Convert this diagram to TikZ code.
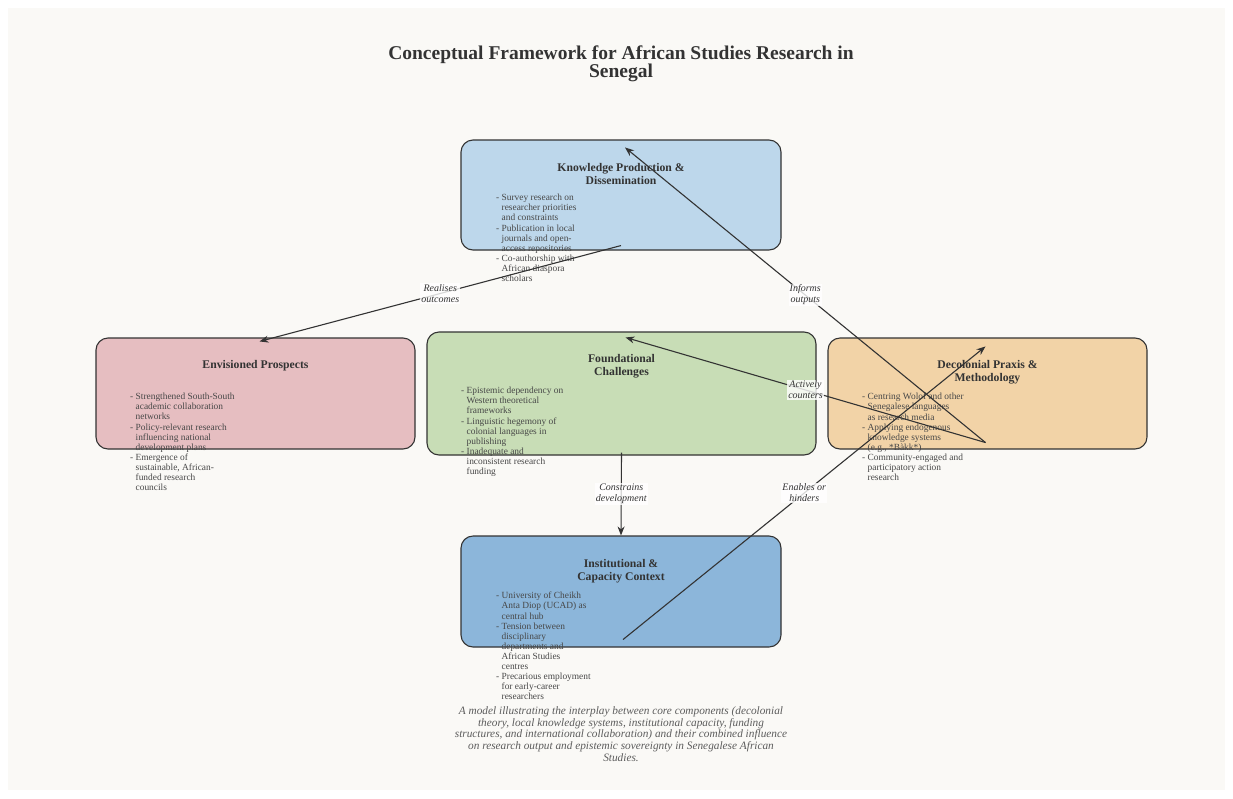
\documentclass[tikz,border=0pt]{standalone}
\usepackage{fontspec}
\setmainfont{Liberation Serif}
\usepackage{xcolor}
\definecolor{bgcream}{HTML}{FAF9F6}
\definecolor{ink}{HTML}{333333}
\definecolor{kpblue}{HTML}{BDD7EB}
\definecolor{eppink}{HTML}{E6BEC1}
\definecolor{fcgreen}{HTML}{C8DDB6}
\definecolor{dporange}{HTML}{F2D3A7}
\definecolor{icblue}{HTML}{8CB6DA}
\usepackage{tikz}
\usetikzlibrary{arrows.meta}
\newcommand{\indentline}{\hspace*{0.58em}}
\tikzstyle{box} = [draw=ink, line width=1.1pt, rounded corners=12pt, inner sep=0pt]
\tikzstyle{head} = [font=\bfseries\fontsize{11.7}{12.5}\selectfont, text=ink, align=center]
\tikzstyle{items} = [font=\fontsize{9.4}{10.1}\selectfont, text=ink!90, align=left, anchor=north west, inner sep=0pt]
\tikzstyle{lbl} = [font=\itshape\fontsize{10}{11}\selectfont, text=ink, fill=white, fill opacity=0.8, text opacity=1, align=center, inner sep=1pt]
\tikzstyle{conn} = [-{Stealth[length=9pt,width=7pt]}, draw=ink, line width=1.1pt]

\begin{document}
\begin{tikzpicture}[x=1pt, y=-1pt]
    \useasboundingbox (0,0) rectangle (1233,798);
    \fill[white] (0,0) rectangle (1233,798);
    \fill[bgcream] (8,8) rectangle (1225,790);

    \node (title) at (621,64) [font=\bfseries\fontsize{19.5}{18.5}\selectfont, text=ink, align=center]
        {Conceptual Framework for African Studies Research in\\Senegal};

    % boxes
    \node (kp) at (621,195) [box, fill=kpblue, minimum width=320, minimum height=110] {};
    \node (ep) at (255.5,393.5) [box, fill=eppink, minimum width=319, minimum height=111] {};
    \node (fc) at (621.5,393.5) [box, fill=fcgreen, minimum width=389, minimum height=123] {};
    \node (dp) at (987.5,393.5) [box, fill=dporange, minimum width=319, minimum height=111] {};
    \node (ic) at (621,591.5) [box, fill=icblue, minimum width=320, minimum height=111] {};

    \node (kphead) at (621,174) [head] {Knowledge Production \&\\Dissemination};
    \node (ephead) at (255.5,366) [head] {Envisioned Prospects};
    \node (fchead) at (621.5,366) [head] {Foundational\\Challenges};
    \node (dphead) at (987.5,372) [head] {Decolonial Praxis \&\\Methodology};
    \node (ichead) at (621,571) [head] {Institutional \&\\Capacity Context};

    \node (kpitems) at (496,194) [items] {- Survey research on\\\indentline researcher priorities\\\indentline and constraints\\- Publication in local\\\indentline journals and open-\\\indentline access repositories\\- Co-authorship with\\\indentline African diaspora\\\indentline scholars};
    \node (epitems) at (130,393) [items] {- Strengthened South-South\\\indentline academic collaboration\\\indentline networks\\- Policy-relevant research\\\indentline influencing national\\\indentline development plans\\- Emergence of\\\indentline sustainable, African-\\\indentline funded research\\\indentline councils};
    \node (fcitems) at (461,387) [items] {- Epistemic dependency on\\\indentline Western theoretical\\\indentline frameworks\\- Linguistic hegemony of\\\indentline colonial languages in\\\indentline publishing\\- Inadequate and\\\indentline inconsistent research\\\indentline funding};
    \node (dpitems) at (862,393) [items] {- Centring Wolof and other\\\indentline Senegalese languages\\\indentline as research media\\- Applying endogenous\\\indentline knowledge systems\\\indentline (e.g., *Bàkk*)\\- Community-engaged and\\\indentline participatory action\\\indentline research};
    \node (icitems) at (496,592) [items] {- University of Cheikh\\\indentline Anta Diop (UCAD) as\\\indentline central hub\\- Tension between\\\indentline disciplinary\\\indentline departments and\\\indentline African Studies\\\indentline centres\\- Precarious employment\\\indentline for early-career\\\indentline researchers};

    % connectors
    \draw[conn] ([yshift=5pt]kp.south) -- node[lbl] {Realises\\outcomes} ([xshift=4pt,yshift=-4pt]ep.north);
    \draw[conn] ([xshift=-2pt,yshift=7pt]dp.south) -- node[lbl] {Informs\\outputs} ([xshift=4pt,yshift=-8pt]kp.north);
    \draw[conn] ([xshift=-2pt,yshift=7pt]dp.south) -- node[lbl] {Actively\\counters} ([xshift=4pt,yshift=-6pt]fc.north);
    \draw[conn] ([yshift=3pt]fc.south) -- node[lbl] {Constrains\\development} (ic.north);
    \draw[conn] ([xshift=2pt,yshift=8pt]ic.south) -- node[lbl] {Enables or\\hinders} ([xshift=-2pt,yshift=-9pt]dp.north);

    \node (caption) at (621,734) [font=\itshape\fontsize{11.3}{11.7}\selectfont, text=ink!80, align=center]
        {A model illustrating the interplay between core components (decolonial\\theory, local knowledge systems, institutional capacity, funding\\structures, and international collaboration) and their combined influence\\on research output and epistemic sovereignty in Senegalese African\\Studies.};
\end{tikzpicture}
\end{document}
